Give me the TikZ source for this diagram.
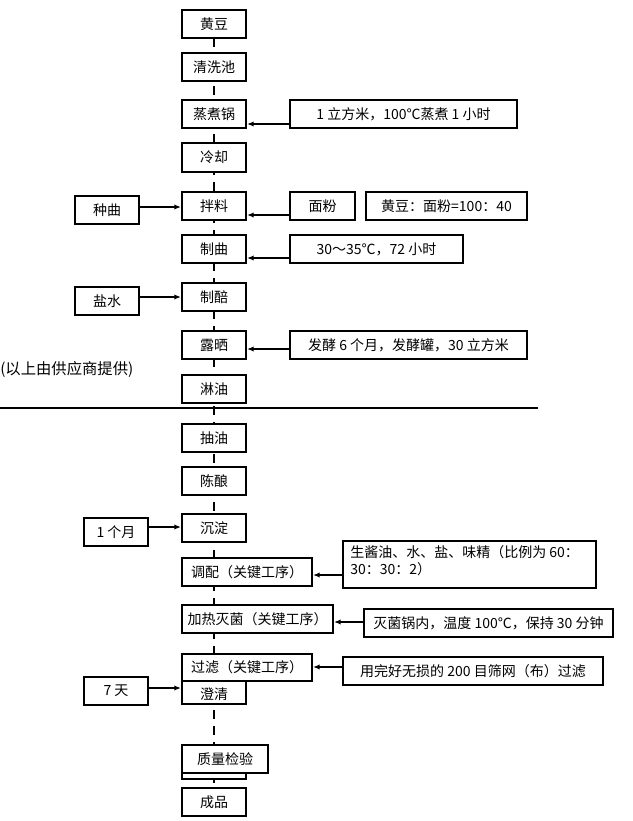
\documentclass[tikz,border=0pt]{standalone}
\usepackage{fontspec}
\setmainfont{Noto Sans CJK SC}
\usetikzlibrary{arrows.meta}
\begin{document}
\begin{tikzpicture}[x=0.75pt,y=-0.75pt,
  bx/.style={draw,line width=1.3pt,fill=white,inner sep=0pt},
  ar/.style={line width=1pt,-{Latex[length=5pt,width=4pt]}},
  font=\fontsize{10.5}{13}\selectfont]
\useasboundingbox (0,0) rectangle (632,821);
\draw[line width=1.3pt,dash pattern=on 7pt off 5pt] (214,38) -- (214,788);
\draw[line width=1pt] (0,408) -- (538,408);
\newcommand\bb[6]{\draw[bx] (#2,#3) rectangle (#4,#5); \node[inner sep=0pt] (#1) at ({(#2+#4)/2},{(#3+#5)/2}) {#6};}
\bb{a1}{182}{10}{246}{38}{黄豆}
\bb{a2}{182}{53}{246}{81}{清洗池}
\bb{a3}{182}{100}{246}{128}{蒸煮锅}
\bb{a4}{182}{143}{246}{172}{冷却}
\bb{a5}{182}{192}{246}{220}{拌料}
\bb{a6}{182}{235}{246}{263}{制曲}
\bb{a7}{182}{283}{246}{311}{制醅}
\bb{a8}{182}{331}{246}{359}{露晒}
\bb{a9}{182}{375}{246}{403}{淋油}
\bb{b1}{182}{424}{246}{452}{抽油}
\bb{b2}{182}{467}{246}{495}{陈酿}
\bb{b3}{182}{514}{246}{542}{沉淀}
\bb{b4}{182}{558}{312}{586}{调配（关键工序）}
\bb{b5}{182}{605}{333}{633}{加热灭菌（关键工序）}
\draw[bx] (182,680) rectangle (246,704); \node[inner sep=0pt] (b6b) at (214,694) {澄清};
\bb{b6}{182}{654}{312}{681}{过滤（关键工序）}
\draw[bx] (182,748) rectangle (246,779);
\bb{b7}{182}{745}{268}{773}{质量检验}
\bb{b8}{182}{788}{246}{816}{成品}
\bb{r1}{290}{100}{517}{128}{1 立方米，100℃蒸煮 1 小时}
\bb{r2}{290}{192}{355}{220}{面粉}
\bb{r2b}{366}{192}{527}{220}{黄豆：面粉=100：40}
\bb{r3}{290}{235}{463}{263}{30～35℃，72 小时}
\bb{r4}{290}{331}{527}{359}{发酵 6 个月，发酵罐，30 立方米}
\draw[bx] (343,541) rectangle (596,588);
\node[inner sep=0pt,align=left,anchor=north west] (r5) at (350,545) {生酱油、水、盐、味精（比例为 60：\\30：30：2）};
\bb{r6}{364}{609}{613}{637}{灭菌锅内，温度 100℃，保持 30 分钟}
\bb{r7}{343}{657}{603}{685}{用完好无损的 200 目筛网（布）过滤}
\bb{l1}{75}{196}{139}{224}{种曲}
\bb{l2}{75}{287}{139}{315}{盐水}
\bb{l3}{84}{518}{148}{546}{1 个月}
\bb{l4}{84}{677}{148}{705}{7 天}
\node[anchor=west,inner sep=0pt,font=\fontsize{11.5}{13}\selectfont] (note) at (0,369) {(以上由供应商提供)};
\coordinate (e1) at (290,124); \coordinate (f1) at (247,124); \draw[ar] (e1) -- (f1);
\coordinate (e2) at (290,215); \coordinate (f2) at (247,215); \draw[ar] (e2) -- (f2);
\coordinate (e3) at (290,258); \coordinate (f3) at (247,258); \draw[ar] (e3) -- (f3);
\coordinate (e4) at (290,349); \coordinate (f4) at (247,349); \draw[ar] (e4) -- (f4);
\coordinate (e5) at (343,575); \coordinate (f5) at (313,575); \draw[ar] (e5) -- (f5);
\coordinate (e6) at (364,622); \coordinate (f6) at (334,622); \draw[ar] (e6) -- (f6);
\coordinate (e7) at (343,667); \coordinate (f7) at (313,667); \draw[ar] (e7) -- (f7);
\coordinate (g1) at (139,207); \coordinate (h1) at (181,207); \draw[ar] (g1) -- (h1);
\coordinate (g2) at (139,297); \coordinate (h2) at (181,297); \draw[ar] (g2) -- (h2);
\coordinate (g3) at (148,527); \coordinate (h3) at (181,527); \draw[ar] (g3) -- (h3);
\coordinate (g4) at (148,688); \coordinate (h4) at (181,688); \draw[ar] (g4) -- (h4);
\end{tikzpicture}
\end{document}
